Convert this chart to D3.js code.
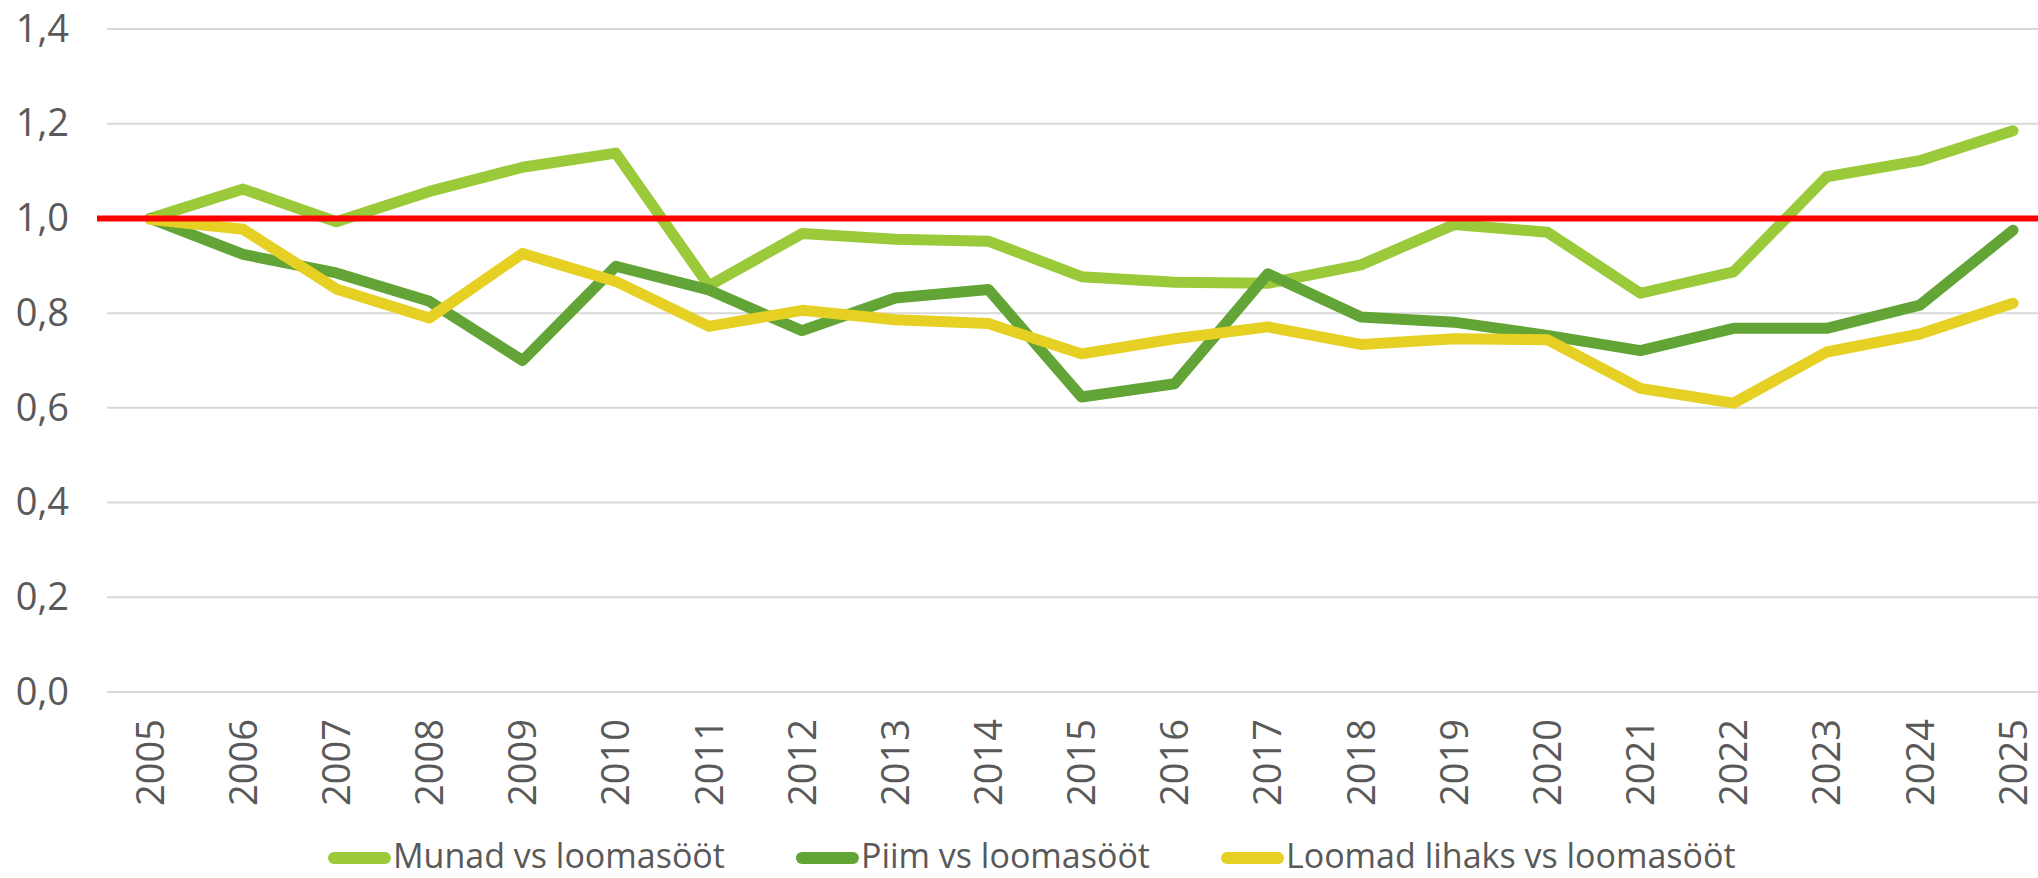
<!DOCTYPE html>
<html>
<head>
<meta charset="utf-8">
<script src="https://cdn.jsdelivr.net/npm/d3@7"></script>
<style>
  html, body { margin: 0; padding: 0; background: #fff; }
  svg { display: block; }
  text { font-family: "Open Sans", "Liberation Sans", sans-serif; fill: #595959; }
</style>
</head>
<body>
<svg id="chart" width="2038" height="878"></svg>
<script>
const years = ["2005","2006","2007","2008","2009","2010","2011","2012","2013","2014","2015","2016","2017","2018","2019","2020","2021","2022","2023","2024","2025"];
const munad  = [1.000,1.062,0.993,1.057,1.108,1.138,0.858,0.968,0.956,0.952,0.877,0.865,0.863,0.902,0.987,0.971,0.842,0.887,1.088,1.122,1.185];
const piim   = [1.000,0.924,0.885,0.825,0.700,0.899,0.849,0.763,0.832,0.850,0.623,0.651,0.883,0.792,0.781,0.753,0.721,0.768,0.768,0.817,0.975];
const loomad = [0.998,0.977,0.851,0.790,0.926,0.867,0.772,0.806,0.786,0.778,0.714,0.746,0.771,0.734,0.746,0.744,0.641,0.610,0.718,0.756,0.821];
const yTicks = [0, 0.2, 0.4, 0.6, 0.8, 1.0, 1.2, 1.4];
const seriesNames = ["Munad vs loomasööt", "Piim vs loomasööt", "Loomad lihaks vs loomasööt"];
const seriesColors = ["#9ACA3A", "#62A536", "#E5D023"];
const referenceValue = 1.0;

const series = [munad, piim, loomad].map((vals, i) => ({
  name: seriesNames[i], color: seriesColors[i],
  values: vals.map((v, j) => ({ year: years[j], value: v }))
}));

const svg = d3.select("#chart");
const gridLeft = 107, gridRight = 2038;

const x = d3.scalePoint().domain(years).range([150, 2013]);
const y = d3.scaleLinear().domain([0, 1.4]).range([692, 29]);

// gridlines
svg.append("g").selectAll("line").data(yTicks).join("line")
  .attr("x1", gridLeft).attr("x2", gridRight)
  .attr("y1", d => y(d)).attr("y2", d => y(d))
  .attr("stroke", "#D9D9D9").attr("stroke-width", 2);

// y axis labels
const yAxis = d3.axisLeft(y).tickValues(yTicks).tickSize(0).tickPadding(0)
  .tickFormat(d => d3.format(".1f")(d).replace(".", ","));
const gy = svg.append("g").attr("transform", "translate(69,0)").call(yAxis);
gy.select(".domain").remove();
gy.selectAll("text").attr("font-size", 38).attr("fill", "#595959")
  .style("font-family", '"Open Sans", "Liberation Sans", sans-serif');

// x axis labels
const xAxis = d3.axisBottom(x).tickSize(0).tickPadding(0);
const gx = svg.append("g").call(xAxis);
gx.select(".domain").remove();
gx.selectAll(".tick").attr("transform", d => `translate(${x(d)},719)`);
gx.selectAll("text")
  .attr("transform", "rotate(-90)")
  .attr("text-anchor", "end")
  .attr("x", 0).attr("y", 0).attr("dy", "0.36em")
  .attr("font-size", 38).attr("fill", "#595959")
  .style("font-family", '"Open Sans", "Liberation Sans", sans-serif');

// lines
const line = d3.line().x(d => x(d.year)).y(d => y(d.value));
svg.append("g").selectAll("path").data(series).join("path")
  .attr("d", d => line(d.values))
  .attr("fill", "none")
  .attr("stroke", d => d.color)
  .attr("stroke-width", 11)
  .attr("stroke-linecap", "round")
  .attr("stroke-linejoin", "round");

// reference line
svg.append("line")
  .attr("x1", 97).attr("x2", gridRight)
  .attr("y1", y(referenceValue)).attr("y2", y(referenceValue))
  .attr("stroke", "#FF0000").attr("stroke-width", 6);

// legend
const legend = svg.append("g");
let lx = 334;
const ly = 858;
series.forEach((s, i) => {
  const g = legend.append("g");
  g.append("line").attr("x1", lx).attr("x2", lx + 51).attr("y1", ly).attr("y2", ly)
    .attr("stroke", s.color).attr("stroke-width", 12).attr("stroke-linecap", "round");
  const t = g.append("text").attr("x", lx + 59).attr("y", 868)
    .attr("font-size", 34).text(s.name);
  const w = t.node().getComputedTextLength();
  lx = lx + 59 + w + 77;
});
</script>
</body>
</html>
